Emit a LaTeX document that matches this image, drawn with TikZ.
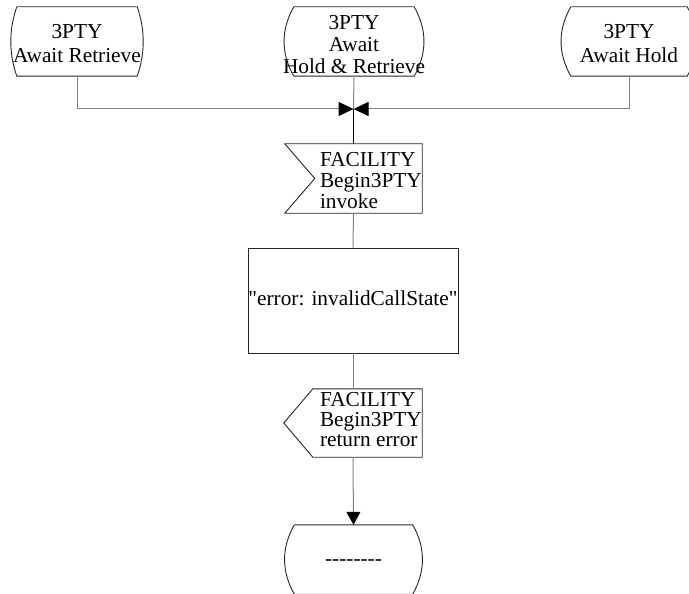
\documentclass[tikz,border=0pt]{standalone}
\usepackage{fontspec}
\setmainfont{Liberation Serif}[Ligatures=TeXOff]
\usetikzlibrary{arrows.meta,calc}

% multi-line text blocks with a set line pitch (stretch factor of 21pt)
\newcommand\cstack[2]{{\renewcommand\arraystretch{#1}\begin{tabular}{@{}c@{}}#2\end{tabular}}}
\newcommand\lstack[2]{{\renewcommand\arraystretch{#1}\begin{tabular}{@{}l@{}}#2\end{tabular}}}

% SDL state symbol: flat top and bottom, bulging sides
\newcommand\drawstate[2]{%
  \draw[outline] (#1.north west) -- (#1.north east)
    .. controls +(#2,23) and +(#2,-23) .. (#1.south east)
    -- (#1.south west)
    .. controls +(-#2,-23) and +(-#2,23) .. (#1.north west);}

\tikzset{
  x=1pt, y=-1pt,
  every node/.style={font=\fontsize{21.3}{21}\selectfont, inner sep=0pt},
  outline/.style={draw=black!85, line width=0.9pt},
  conn/.style={draw=black!50, line width=1pt},
  mainflow/.style={draw=black, line width=1.6pt},
  frame/.style={rectangle, minimum width=#1},
  frame/.default=120pt,
  lbl/.style={inner sep=0pt},
  tip/.style={-{Triangle[length=15pt,width=14pt,color=black]}},
  downtip/.style={-{Triangle[length=13pt,width=14pt,color=black]}},
}

\begin{document}
\begin{tikzpicture}
\useasboundingbox (0,0) rectangle (689,594);

% symbol frames
\node[frame, minimum height=69pt] (s1) at (77,41.5) {};
\node[frame, minimum height=69pt] (s2) at (354,41.5) {};
\node[frame=116pt, minimum height=69pt] (s3) at (629,41.5) {};
\coordinate (j) at (353.5,109);
\node[frame=137pt, minimum height=69pt] (in) at (353.5,178.5) {};
\node[frame=210pt, minimum height=105pt, outline] (task) at (353,300.5) {};
\node[frame=138pt, minimum height=68pt] (out) at (353,423) {};
\node[frame=118pt, minimum height=69pt] (s4) at (353.5,559.5) {};

% outlines
\drawstate{s1}{8}
\drawstate{s2}{13}
\drawstate{s3}{13}
\drawstate{s4}{13}
\draw[outline] (in.north west) -- (in.north east) -- (in.south east)
  -- (in.south west) -- ($(in.west)+(30,0)$) -- cycle;
\draw[outline] ($(out.north west)+(29,0)$) -- (out.north east) -- (out.south east)
  -- ($(out.south west)+(29,0)$) -- (out.west) -- cycle;

% connectors
\draw[conn, tip] (s1.south) |- (j);
\draw[conn, tip] (s3.south) |- (j);
\draw[conn] (s2.south) -- (j);
\draw[mainflow] (j) -- (in.north);
\draw[conn] (in.south) -- (task.north);
\draw[conn] (task.south) -- (out.north);
\draw[conn, downtip] (out.south) -- (s4.north);

% texts
\node[lbl] (s1-txt) at ($(s1)+(0,4.2)$) {\cstack{1.143}{3PTY\\Await Retrieve}};
\node[lbl] (s2-txt) at ($(s2)+(0,5.7)$) {\cstack{1.063}{3PTY\\Await\\Hold \& Retrieve}};
\node[lbl] (s3-txt) at ($(s3)+(0,4.2)$) {\cstack{1.143}{3PTY\\Await Hold}};
\node[lbl, anchor=west] (in-txt) at ($(in.west)+(35,4.8)$) {\lstack{0.99}{FACILITY\\Begin3PTY\\invoke}};
\node[lbl] (task-txt) at ($(task)+(0,0.5)$) {\cstack{1}{"error: invalidCallState"}};
\node[lbl, anchor=west] (out-txt) at ($(out.west)+(36,-0.3)$) {\lstack{0.952}{FACILITY\\Begin3PTY\\return error}};
\node[lbl] (s4-txt) at ($(s4)+(0,1.3)$) {\cstack{1}{--------}};
\end{tikzpicture}
\end{document}
